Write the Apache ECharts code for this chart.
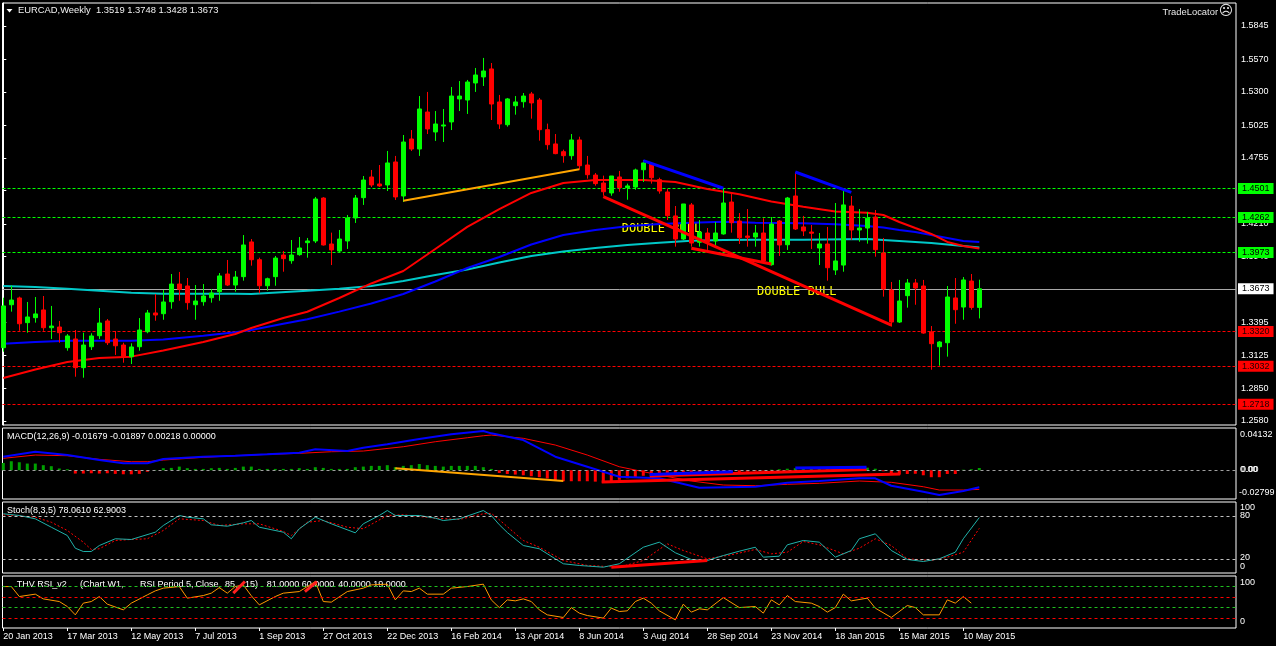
<!DOCTYPE html>
<html><head><meta charset="utf-8">
<script src="https://cdn.jsdelivr.net/npm/echarts@6.0.0/dist/echarts.min.js"></script>
<style>html,body{margin:0;padding:0;background:#000;}#c{width:1276px;height:646px;}</style>
</head><body><div id="c"></div>
<script>
// ---------- DATA ----------
const tickBars = [0,8,16,24,32,40,48,56,64,72,80,88,96,104,112,120];
const tickLabels = ['20 Jan 2013','17 Mar 2013','12 May 2013','7 Jul 2013','1 Sep 2013','27 Oct 2013','22 Dec 2013','16 Feb 2014','13 Apr 2014','8 Jun 2014','3 Aug 2014','28 Sep 2014','23 Nov 2014','18 Jan 2015','15 Mar 2015','10 May 2015'];
const priceTicks = [1.2580,1.2850,1.3125,1.3395,1.3670,1.3940,1.4210,1.4485,1.4755,1.5025,1.5300,1.5570,1.5845];

const opens = [1.3186,1.3541,1.3597,1.3393,1.3434,1.3498,1.3351,1.3357,1.3186,1.3258,
1.3021,1.3194,1.3285,1.3407,1.3258,1.3208,1.3112,1.3194,1.3318,1.3473,
1.3467,1.3566,1.3712,1.3696,1.3541,1.3566,1.3599,1.3649,1.3795,1.3704,
1.3773,1.4060,1.3913,1.3698,1.3773,1.3952,1.3905,1.3955,1.4054,1.4068,
1.4423,1.4043,1.3985,1.4068,1.4258,1.4426,1.4597,1.4539,1.4531,1.4721,
1.4440,1.4911,1.4828,1.5134,1.4969,1.5018,1.5052,1.5242,1.5233,1.5374,
1.5424,1.5490,1.5217,1.5029,1.5186,1.5219,1.5283,1.5233,1.4988,1.4870,
1.4806,1.4773,1.4903,1.4696,1.4613,1.4547,1.4465,1.4597,1.4509,1.4514,
1.4657,1.4704,1.4575,1.4473,1.4275,1.4084,1.4366,1.4057,1.4134,1.4068,
1.4126,1.4390,1.4233,1.4109,1.4101,1.4134,1.3872,1.4233,1.4037,1.4440,
1.4184,1.4142,1.4010,1.4043,1.3828,1.3869,1.4357,1.4159,1.4175,1.4266,
1.3969,1.3663,1.3398,1.3616,1.3721,1.3696,1.3316,1.3194,1.3227,1.3597,
1.3522,1.3737,1.3519];
const highs = [1.3599,1.3698,1.3608,1.3564,1.3605,1.3613,1.3531,1.3407,1.3299,1.3332,
1.3310,1.3305,1.3514,1.3423,1.3324,1.3227,1.3222,1.3431,1.3498,1.3630,
1.3663,1.3795,1.3812,1.3762,1.3704,1.3712,1.3671,1.3803,1.3911,1.3820,
1.4117,1.4084,1.3930,1.3765,1.3944,1.3985,1.4076,1.4101,1.4093,1.4432,
1.4430,1.4137,1.4159,1.4283,1.4448,1.4605,1.4655,1.4696,1.4812,1.4771,
1.4944,1.4985,1.5266,1.5300,1.5142,1.5159,1.5341,1.5390,1.5399,1.5498,
1.5581,1.5539,1.5275,1.5250,1.5266,1.5291,1.5300,1.5250,1.5038,1.4952,
1.4823,1.4952,1.4930,1.4771,1.4630,1.4608,1.4605,1.4647,1.4542,1.4666,
1.4737,1.4707,1.4591,1.4498,1.4357,1.4374,1.4382,1.4241,1.4175,1.4225,
1.4498,1.4456,1.4299,1.4332,1.4200,1.4256,1.4266,1.4241,1.4432,1.4638,
1.4275,1.4200,1.4134,1.4184,1.4382,1.4481,1.4440,1.4332,1.4308,1.4324,
1.4093,1.3729,1.3746,1.3754,1.3754,1.3746,1.3365,1.3241,1.3696,1.3762,
1.3770,1.3795,1.3748];
const lows = [1.3153,1.3484,1.3326,1.3310,1.3393,1.3326,1.3258,1.3227,1.3161,1.2946,
1.2938,1.3167,1.3258,1.3208,1.3126,1.3062,1.3051,1.3161,1.3305,1.3409,
1.3417,1.3508,1.3574,1.3500,1.3417,1.3533,1.3558,1.3574,1.3696,1.3649,
1.3740,1.3864,1.3636,1.3657,1.3698,1.3814,1.3880,1.3946,1.3930,1.4051,
1.4030,1.3869,1.3977,1.4002,1.4217,1.4366,1.4514,1.4514,1.4481,1.4407,
1.4390,1.4812,1.4771,1.4952,1.4895,1.4886,1.4985,1.5142,1.5118,1.5300,
1.5349,1.5068,1.4994,1.5013,1.5112,1.5170,1.5079,1.4897,1.4823,1.4785,
1.4715,1.4740,1.4657,1.4583,1.4525,1.4442,1.4442,1.4475,1.4409,1.4492,
1.4556,1.4542,1.4459,1.4241,1.4021,1.4076,1.4021,1.4021,1.3994,1.4029,
1.4120,1.4137,1.4043,1.4021,1.4021,1.3897,1.3864,1.3944,1.3994,1.4159,
1.4109,1.4002,1.3869,1.3740,1.3787,1.3814,1.4076,1.4062,1.4046,1.3938,
1.3608,1.3360,1.3390,1.3517,1.3541,1.3301,1.3004,1.3037,1.3112,1.3384,
1.3417,1.3500,1.3428];
const closes = [1.3531,1.3580,1.3384,1.3440,1.3465,1.3351,1.3365,1.3310,1.3283,1.3021,
1.3208,1.3283,1.3390,1.3227,1.3202,1.3112,1.3192,1.3332,1.3473,1.3456,
1.3564,1.3712,1.3669,1.3558,1.3572,1.3613,1.3638,1.3779,1.3704,1.3770,
1.4035,1.3913,1.3698,1.3756,1.3927,1.3922,1.3952,1.4010,1.4068,1.4415,
1.4035,1.3994,1.4084,1.4258,1.4423,1.4572,1.4531,1.4523,1.4713,1.4432,
1.4886,1.4828,1.5159,1.4994,1.5035,1.5027,1.5266,1.5266,1.5382,1.5440,
1.5473,1.5200,1.5035,1.5242,1.5217,1.5266,1.5209,1.4988,1.4864,1.4790,
1.4773,1.4903,1.4690,1.4616,1.4542,1.4475,1.4605,1.4509,1.4523,1.4655,
1.4713,1.4591,1.4481,1.4277,1.4084,1.4374,1.4051,1.4142,1.4062,1.4134,
1.4382,1.4219,1.4095,1.4098,1.4134,1.3903,1.4208,1.4035,1.4423,1.4167,
1.4151,1.4132,1.4043,1.3847,1.3903,1.4366,1.4159,1.4175,1.4256,1.3996,
1.3671,1.3398,1.3572,1.3721,1.3679,1.3307,1.3219,1.3233,1.3605,1.3500,
1.3746,1.3519,1.3673];

// moving averages: [bar, price]
const maRed = [[0,1.2935],[4,1.3006],[8,1.3068],[12,1.3101],[16,1.3112],[20,1.3163],[25,1.3233],[29,1.3299],[31,1.3349],[35,1.3431],[38,1.3483],[42,1.3597],[46,1.3717],[50,1.3820],[54,1.4002],[58,1.4184],[62,1.4332],[66,1.4465],[70,1.4547],[74,1.4572],[80,1.4572],[84,1.4556],[88,1.4498],[92,1.4454],[96,1.4394],[100,1.4351],[104,1.4312],[108,1.4302],[110,1.4283],[112,1.4225],[114,1.4175],[116,1.4126],[118,1.4060],[120,1.4027],[122,1.4006]];
const maBlue = [[0,1.3219],[4,1.3233],[8,1.3244],[16,1.3244],[20,1.3254],[25,1.3285],[29,1.3313],[31,1.3332],[35,1.3384],[38,1.3421],[42,1.3484],[46,1.3551],[50,1.3630],[54,1.3733],[58,1.3845],[62,1.3936],[66,1.4039],[70,1.4117],[74,1.4159],[78,1.4189],[82,1.4208],[86,1.4219],[90,1.4227],[94,1.4219],[100,1.4214],[104,1.4206],[108,1.4192],[110,1.4179],[112,1.4159],[114,1.4142],[116,1.4117],[118,1.4093],[120,1.4068],[122,1.4060]];
const maCyan = [[0,1.3696],[4,1.3688],[8,1.3674],[12,1.3657],[16,1.3641],[20,1.3632],[29,1.3632],[31,1.3630],[38,1.3657],[42,1.3674],[46,1.3696],[50,1.3737],[54,1.3787],[58,1.3832],[62,1.3890],[66,1.3944],[70,1.3981],[74,1.4010],[78,1.4035],[82,1.4054],[86,1.4070],[90,1.4076],[94,1.4079],[100,1.4079],[108,1.4084],[110,1.4076],[112,1.4068],[114,1.4060],[116,1.4051],[118,1.4039],[120,1.4027],[122,1.4014]];

// horizontal levels
const resistanceLevels = [1.4501,1.4262,1.3973];
const supportLevels = [1.3320,1.3032,1.2718];
const lastPrice = 1.3673;

// drawn trend lines [bar, value]
const orangeTrend = [[50,1.4401],[72,1.4661]];
const blueTrend1 = [[80,1.4732],[90,1.4504]];
const blueTrend2 = [[99,1.4638],[106,1.4470]];
const redTrend1 = [[75,1.4434],[111,1.3373]];
const redTrend2 = [[86,1.4008],[96,1.3878]];

// MACD
const macdMain = [[0,0.01337],[4,0.01832],[8,0.01505],[12,0.0101],[15,0.00683],[18,0.00683],[20,0.01109],[25,0.01337],[29,0.01436],[33,0.01574],[37,0.01733],[39,0.02069],[43,0.01901],[45,0.02228],[48,0.02564],[52,0.03089],[56,0.03554],[60,0.03881],[61,0.03653],[65,0.0299],[69,0.01337],[73,0.00347],[77,-0.00644],[82,-0.00802],[87,-0.01733],[94,-0.01634],[98,-0.01238],[102,-0.01069],[107,-0.00802],[109,-0.00802],[111,-0.01535],[115,-0.02129],[117,-0.02455],[120,-0.02059],[122,-0.01679]];
const macdSignal = [[0,0.01178],[4,0.01505],[8,0.01436],[12,0.01079],[16,0.00842],[18,0.00842],[20,0.0101],[25,0.01277],[29,0.01436],[33,0.01574],[37,0.01673],[41,0.01832],[45,0.01901],[50,0.02327],[54,0.02822],[58,0.03218],[60,0.03416],[61,0.03485],[65,0.03158],[69,0.02495],[73,0.01505],[77,0.00347],[82,-0.00475],[86,-0.01069],[90,-0.01465],[94,-0.01535],[98,-0.01396],[102,-0.01297],[107,-0.01069],[111,-0.01198],[115,-0.01634],[117,-0.0196],[120,-0.0196],[122,-0.01897]];
const macdHist = [0.0072,0.0089,0.0079,0.0066,0.0066,0.005,0.004,0.0017,0.001,-0.0033,
-0.0033,-0.003,-0.0033,-0.003,-0.0036,-0.004,-0.004,-0.0036,-0.0015,0.0003,
0.002,0.0023,0.0036,0.002,0.0013,0.0013,0.002,0.0023,0.0013,0.0023,
0.0036,0.0036,0.0013,0.0013,0.0013,0.0013,0.0013,0.002,0.0013,0.003,
0.0023,0.0013,0.0013,0.0013,0.003,0.0036,0.0043,0.0043,0.005,0.003,
0.0043,0.005,0.0062,0.005,0.0043,0.0036,0.0043,0.0043,0.0043,0.0043,
0.003,0.0013,-0.0027,-0.0037,-0.0043,-0.005,-0.0059,-0.0069,-0.0082,-0.0102,
-0.0109,-0.0109,-0.0109,-0.0109,-0.0113,-0.0126,-0.0112,-0.0095,-0.008,-0.0068,
-0.0055,-0.0042,-0.003,-0.0035,-0.004,-0.0045,-0.005,-0.0045,-0.004,-0.0035,
-0.003,-0.0025,-0.002,-0.0015,-0.001,-0.0005,0.0005,0.001,0.0015,0.002,
0.002,0.0025,0.0025,0.0025,0.0025,0.003,0.003,0.003,0.0025,0.0015,
-0.001,-0.0033,-0.0043,-0.0037,-0.0035,-0.005,-0.0069,-0.0069,-0.0037,-0.0037,
0.0005,0.001,0.00218];
const macdOrangeTrend = [[49,0.00188],[70,-0.01069]];
const macdRedTrend1 = [[74.8,-0.01168],[112.1,-0.00376]];
const macdRedTrend2 = [[80.8,-0.00574],[107.9,0.0007]];
const macdBlueTrend1 = [[80.8,-0.00426],[91.2,-0.00149]];
const macdBlueTrend2 = [[99,0.00218],[107.9,0.00287]];

// Stochastic
const stochMain = [[0,83.4],[2,81],[4,76.3],[6,64.5],[8,52.8],[9,34.9],[10,30.3],[11,30.3],[12,38.7],[14,48.2],[16,47.2],[19,57.5],[20,66.9],[22,81],[23,78.6],[25,76.3],[26,67.9],[28,65.9],[30,70.7],[31,73.9],[32,64.5],[35,57.5],[36,48.2],[37,62.3],[39,78.6],[41,69.3],[44,56.6],[45,69.3],[47,81],[48,88],[49,81],[52,81],[54,77.2],[55,73.9],[57,76.3],[60,88],[61,81],[62,68],[63,57],[65,38.7],[67,34.1],[69,20],[70,13],[72,10.6],[75,8.2],[77,13],[80,36.3],[82,43.4],[84,28.5],[86,19],[88,17.6],[90,24.6],[92,30.7],[94,36.3],[95,22.3],[97,23.7],[98,39.7],[100,45.8],[102,43.4],[104,22.3],[106,31.7],[107,48.2],[109,55.2],[111,31.7],[113,19],[115,16.2],[117,20],[119,29.3],[120,48.2],[122,78.06]];
const stochSignal = [[0,82],[4,78.6],[6,71.5],[8,59.9],[10,43.4],[11,33.1],[12,34.1],[14,45.8],[16,47.2],[18,48.2],[20,59.9],[22,76.3],[25,73.9],[27,66.9],[30,69.3],[32,69.3],[35,58.5],[36,52.8],[38,71.5],[40,73.9],[43,64.5],[45,62.3],[48,81],[50,82],[54,77.2],[57,75.4],[60,83.4],[61,84],[62,75],[65,45.8],[67,36.3],[70,17.6],[73,10.6],[77,8.2],[80,17.6],[83,41.1],[85,31.7],[88,20],[91,25.6],[94,33.1],[96,27],[98,29.3],[100,44.4],[102,39.7],[105,27],[107,34.9],[109,48.2],[111,38.7],[113,20],[116,17.6],[118,22.3],[120,29.3],[122,62.9]];
const stochLevels = [80,20];
const stochRedTrend = [[76,8.2],[88,17.6]];

// RSI
const rsiLine = [[0,79.7],[1,79.7],[2,60.5],[4,65.1],[5,56],[7,50.9],[8,41.3],[9,25.3],[10,47.8],[11,50.9],[12,60.5],[13,45.9],[15,34.9],[16,47.8],[18,63.7],[19,71.4],[20,76.6],[22,79.7],[23,57.4],[25,62.4],[26,67],[27,77.7],[28,67],[29,79.7],[30,82.9],[31,62],[32,44.5],[34,60.5],[35,67],[37,70.1],[39,89.3],[40,50.9],[41,49.7],[43,70.1],[45,76.6],[46,82.9],[48,84.3],[49,54.1],[50,71.4],[51,70.1],[52,76.6],[53,65.1],[55,65.1],[56,76.6],[58,79.7],[60,84.3],[61,54],[62,39.3],[63,54.1],[64,52.2],[65,56],[66,50.9],[67,34.9],[68,25.3],[70,20.2],[71,39.3],[72,28.6],[73,24],[75,19],[76,38.2],[77,31.7],[78,33],[79,50.9],[80,57.4],[81,47.8],[82,33],[84,15.7],[85,45.9],[86,30.5],[87,36.9],[88,34.9],[90,58.5],[92,39.3],[94,41.3],[95,28.6],[96,54.1],[97,44.5],[98,62.4],[99,50.9],[101,47.8],[102,41.3],[103,30.5],[104,39.3],[105,65.1],[106,52.2],[108,57.4],[109,38.2],[111,20.2],[113,43.2],[114,39.3],[115,25.3],[117,25.3],[118,54.1],[119,47.8],[120,60.5],[121,47.8]];
const rsiUpperLevels = [81,40];
const rsiLowerLevels = [60,19];
const rsiMark1 = [[28.75,67],[30.2,89.3]];
const rsiMark2 = [[37.7,70],[39.2,89.3]];

// texts
const headerMain = 'EURCAD,Weekly  1.3519 1.3748 1.3428 1.3673';
const headerMacd = 'MACD(12,26,9) -0.01679 -0.01897 0.00218 0.00000';
const headerStoch = 'Stoch(8,3,5) 78.0610 62.9003';
const headerRsiParts = ['THV RSI_v2','(Chart W1,','RSI Period 5,','Close,','85,','15)','81.0000','60.0000','40.0000','19.0000'];
const macdScaleLabels = ['0.04132','0.00','-0.02799'];
const stochScaleLabels = ['100','80','20','0'];
const rsiScaleLabels = ['100','0'];
const annotation = 'DOUBLE BULL';

// ---------- CHART ----------
const F = '"Liberation Sans", Arial, sans-serif';
const FS = 9;
const X0 = -0.1, X1 = 154.0875;
const chart = echarts.init(document.getElementById('c'), null, {renderer: 'canvas'});

const candleData = opens.map((o, i) => [i, o, closes[i], lows[i], highs[i]]);
const histData = macdHist.map((v, i) => [i, v]);

function gridDef(top, height) {
  return {left: 2.5, right: 40, top: top, height: height, show: true, borderColor: '#ffffff', borderWidth: 1,
    backgroundColor: 'transparent', containLabel: false, outerBoundsMode: 'none'};
}
function hiddenX(i) { return {type: 'value', gridIndex: i, min: X0, max: X1, show: false, splitLine: {show: false}}; }
function hiddenY(i, mn, mx) { return {type: 'value', gridIndex: i, min: mn, max: mx, show: false, splitLine: {show: false}, position: 'right'}; }
function line(data, color, width, xi, extra) {
  return Object.assign({type: 'line', xAxisIndex: xi, yAxisIndex: xi, data: data, symbol: 'none', showSymbol: false,
    lineStyle: {color: color, width: width}, itemStyle: {color: color}, silent: true, animation: false, z: 3}, extra || {});
}
function levelLine(v, color, dash, boxBg, boxText) {
  return {yAxis: v, lineStyle: {color: color, type: dash, width: 1},
    label: {show: true, position: 'end', distance: 2, formatter: () => v.toFixed(4),
      backgroundColor: boxBg, color: boxText, padding: [1, 4, 0, 4], fontSize: FS, fontFamily: F, lineHeight: 10}};
}

const mainLevels = [];
resistanceLevels.forEach(v => mainLevels.push(levelLine(v, '#00ff00', [3, 2], '#00ff00', '#000000')));
mainLevels.push(levelLine(lastPrice, '#a8a8a8', 'solid', '#ffffff', '#000000'));
supportLevels.forEach(v => mainLevels.push(levelLine(v, '#ff0000', [3, 2], '#ff0000', '#200000')));

function txt(text, x, y, opt) {
  return {type: 'text', x: x, y: y, silent: true, style: Object.assign({text: text, fill: '#ffffff', font: FS + 'px ' + F, verticalAlign: 'middle', align: 'left'}, opt || {})};
}
const rsiPartX = [16.7, 80, 140, 195.5, 225, 245, 266.7, 301.7, 338.3, 373.3];
const graphics = [
  {type: 'polygon', shape: {points: [[6.5, 9], [12.5, 9], [9.5, 12.5]]}, style: {fill: '#ffffff'}, silent: true},
  txt(headerMain, 18, 10.5, {fill: '#f0f0f0', font: '9.4px ' + F}),
  txt('TradeLocator', 1218, 12, {align: 'right', fill: '#e8e8e8', font: '9.4px ' + F}),
  txt('\u2639', 1226, 11, {align: 'center', font: '14px "DejaVu Sans"', fill: '#e8e8e8'}),
  txt(headerMacd, 7, 436.7),
  txt(headerStoch, 7, 511),
  txt(macdScaleLabels[0], 1240, 434.3), txt(macdScaleLabels[1], 1240, 469.5), txt(macdScaleLabels[1], 1241, 469.5), txt(macdScaleLabels[2], 1239, 492.7),
  txt(stochScaleLabels[0], 1240, 507.5), txt(stochScaleLabels[1], 1240, 515.5), txt(stochScaleLabels[2], 1240, 557.7), txt(stochScaleLabels[3], 1240, 566.7),
  txt(rsiScaleLabels[0], 1240, 582.3), txt(rsiScaleLabels[1], 1240, 621.7),
  txt(annotation, 621.7, 228.5, {fill: '#ffff00', font: '12px "DejaVu Sans Mono"'}),
  txt(annotation, 757, 291.5, {fill: '#ffff00', font: '12px "DejaVu Sans Mono"'})
];
headerRsiParts.forEach((t, i) => graphics.push(txt(t, rsiPartX[i], 585)));

const option = {
  backgroundColor: '#000000',
  animation: false,
  textStyle: {fontFamily: F},
  grid: [gridDef(3, 422), gridDef(428, 71), gridDef(502, 71), gridDef(576, 52)],
  xAxis: [hiddenX(0), hiddenX(1), hiddenX(2), {
    type: 'value', gridIndex: 3, min: X0, max: X1, show: true,
    axisLine: {show: false}, splitLine: {show: false},
    axisTick: {show: true, customValues: tickBars, length: 3, lineStyle: {color: '#ffffff'}},
    axisLabel: {show: true, customValues: tickBars, formatter: v => tickLabels[tickBars.indexOf(Math.round(v))] || '',
      color: '#ffffff', fontSize: FS, fontFamily: F, align: 'left', margin: 4, showMinLabel: true, showMaxLabel: true}
  }],
  yAxis: [{
    type: 'value', gridIndex: 0, position: 'right', min: 1.2547, max: 1.6035,
    axisLine: {show: true, lineStyle: {color: '#ffffff'}},
    axisTick: {show: true, customValues: priceTicks, length: 3, lineStyle: {color: '#ffffff'}},
    axisLabel: {show: true, customValues: priceTicks, formatter: v => v.toFixed(4), color: '#ffffff', fontSize: FS, fontFamily: F, margin: 5},
    splitLine: {show: false}
  }, hiddenY(1, -0.02849, 0.04182), hiddenY(2, 0, 100), hiddenY(3, 0, 100)],
  graphic: graphics,
  series: [
    {type: 'candlestick', xAxisIndex: 0, yAxisIndex: 0, data: candleData, barWidth: 5, silent: true, z: 4,
      itemStyle: {color: '#00ff00', color0: '#ff0000', borderColor: '#00ff00', borderColor0: '#ff0000', borderWidth: 1},
      markLine: {symbol: 'none', silent: true, animation: false, precision: 4, z: 2, data: mainLevels}},
    line(maCyan, '#00c8c8', 2, 0),
    line(maBlue, '#0000ff', 2, 0),
    line(maRed, '#ff0000', 2, 0),
    line(orangeTrend, '#ffa500', 2, 0, {z: 5}),
    line(blueTrend1, '#0000ff', 3, 0, {z: 5}),
    line(blueTrend2, '#0000ff', 3, 0, {z: 5}),
    line(redTrend1, '#ff0000', 3, 0, {z: 5}),
    line(redTrend2, '#ff0000', 3, 0, {z: 5}),
    // MACD
    {type: 'bar', xAxisIndex: 1, yAxisIndex: 1, data: histData, barWidth: 3, silent: true, animation: false,
      itemStyle: {color: p => p.value[1] >= 0 ? '#00a000' : '#ff0000'},
      markLine: {symbol: 'none', silent: true, precision: 5, label: {show: false}, data: [{yAxis: 0, lineStyle: {color: '#a0a0a0', type: [3, 3], width: 1}}]}},
    line(macdSignal, '#ff0000', 1, 1),
    line(macdMain, '#0000ff', 2, 1),
    line(macdOrangeTrend, '#ffa500', 2, 1, {z: 5}),
    line(macdRedTrend1, '#ff0000', 3, 1, {z: 5}),
    line(macdRedTrend2, '#ff0000', 3, 1, {z: 5}),
    line(macdBlueTrend1, '#0000ff', 3, 1, {z: 5}),
    line(macdBlueTrend2, '#0000ff', 3, 1, {z: 5}),
    // Stoch
    line(stochSignal, '#ff0000', 1, 2, {lineStyle: {color: '#ff0000', width: 1, type: [2, 2]},
      markLine: {symbol: 'none', silent: true, label: {show: false},
        data: stochLevels.map(v => ({yAxis: v, lineStyle: {color: '#c0c0c0', type: [3, 3], width: 1}}))}}),
    line(stochMain, '#20b2aa', 1, 2),
    line(stochRedTrend, '#ff0000', 3, 2, {z: 5}),
    // RSI
    line(rsiLine, '#ff9900', 1, 3, {
      markLine: {symbol: 'none', silent: true, label: {show: false},
        data: rsiUpperLevels.map(v => ({yAxis: v, lineStyle: {color: '#20c020', type: [3, 3], width: 1}}))
          .concat(rsiLowerLevels.map(v => ({yAxis: v, lineStyle: {color: '#ff0000', type: [3, 3], width: 1}})))}}),
    line(rsiMark1, '#ff2020', 3, 3, {z: 5}),
    line(rsiMark2, '#ff2020', 3, 3, {z: 5})
  ]
};
chart.setOption(option);
</script>
</body></html>
